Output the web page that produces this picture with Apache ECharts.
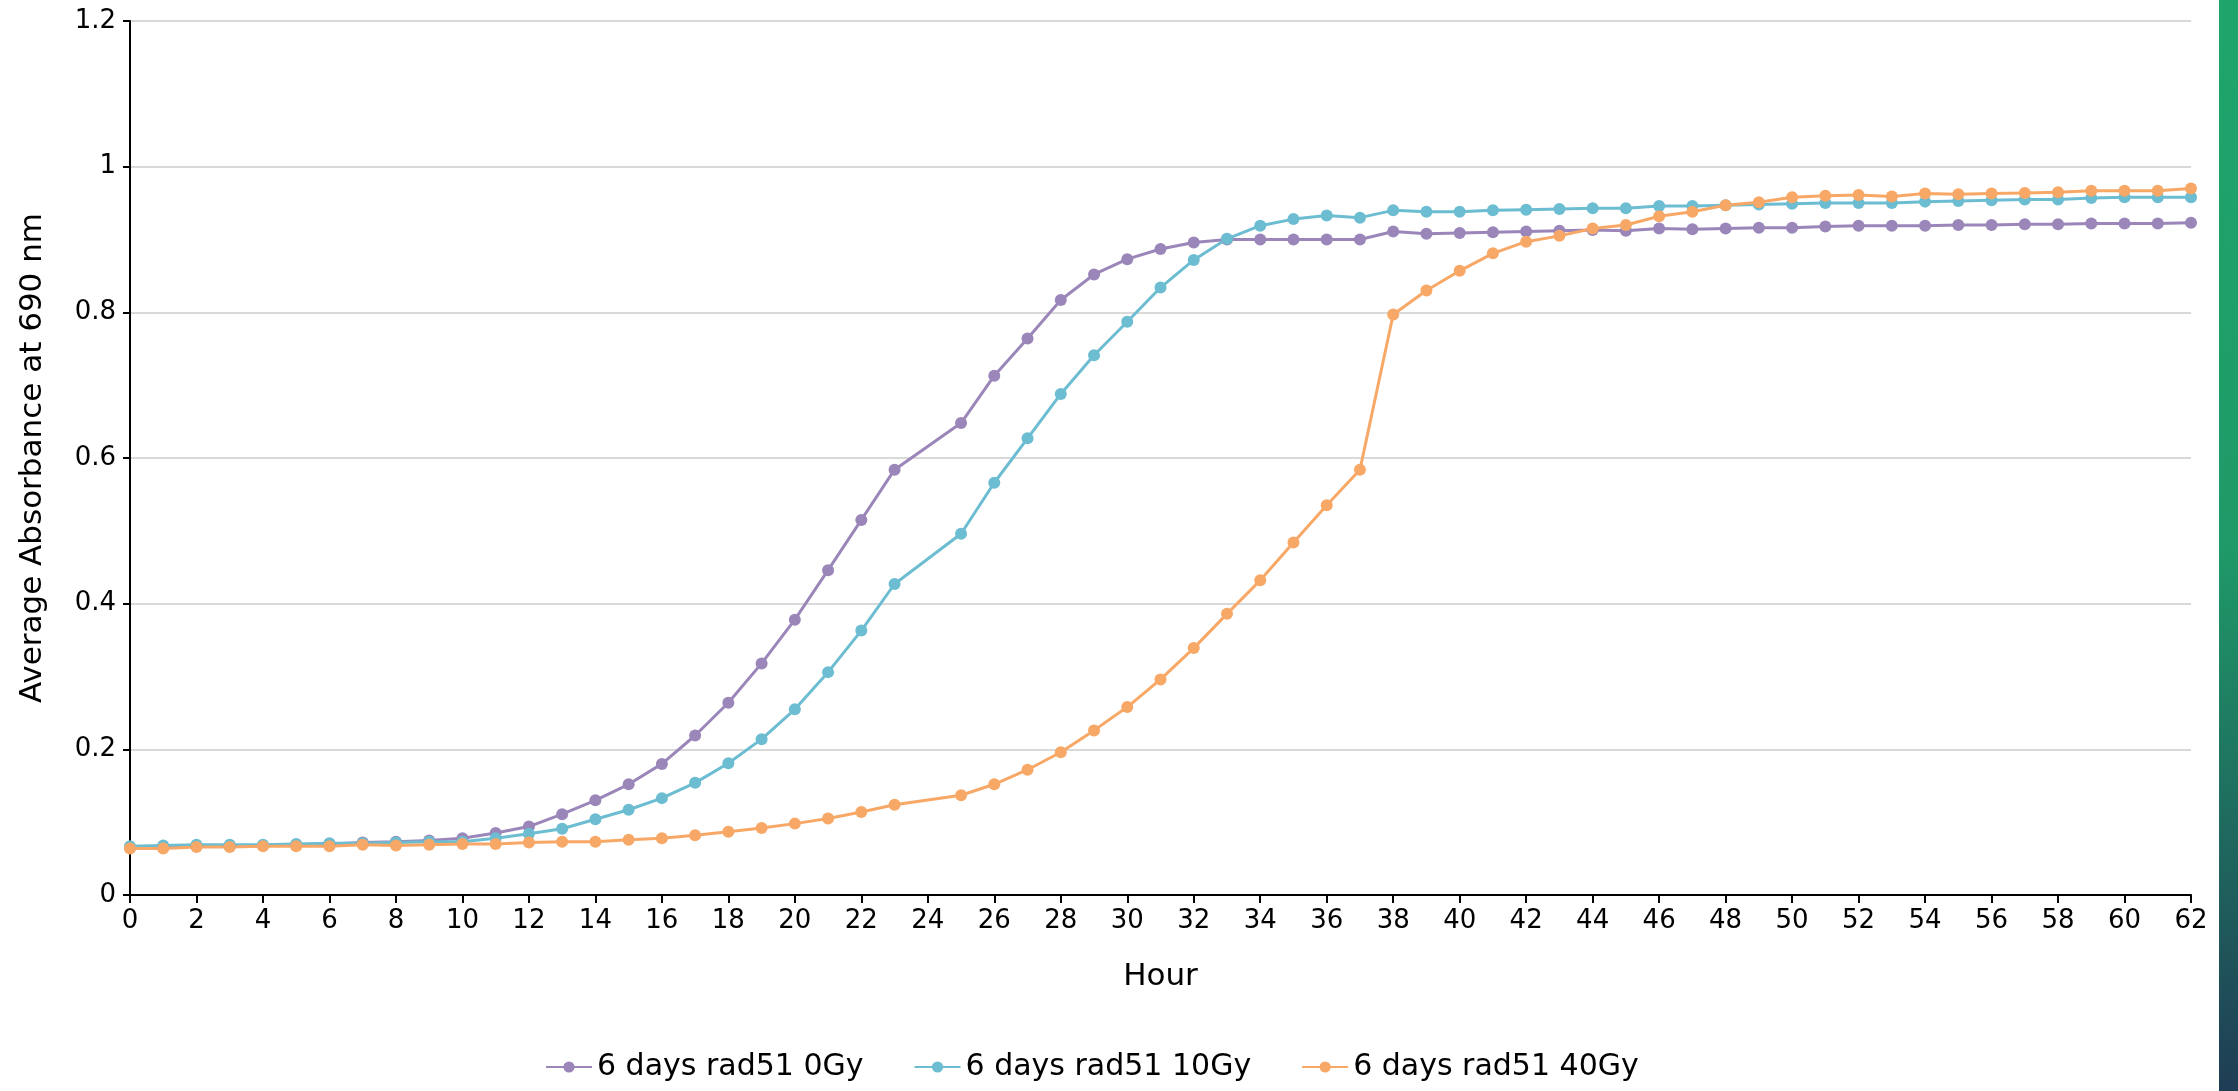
<!DOCTYPE html>
<html>
<head>
<meta charset="utf-8">
<script src="https://cdn.jsdelivr.net/npm/echarts@6/dist/echarts.min.js"></script>
<style>
html,body{margin:0;padding:0;background:#fff;}
#chart{width:2238px;height:1091px;}
</style>
</head>
<body>
<div id="chart"></div>
<script>
const hours = [0,1,2,3,4,5,6,7,8,9,10,11,12,13,14,15,16,17,18,19,20,21,22,23,25,26,27,28,29,30,31,32,33,34,35,36,37,38,39,40,41,42,43,44,45,46,47,48,49,50,51,52,53,54,55,56,57,58,59,60,61,62];
const seriesNames = ['6 days rad51 0Gy', '6 days rad51 10Gy', '6 days rad51 40Gy'];
const gy0 = [0.065,0.066,0.067,0.067,0.068,0.069,0.070,0.072,0.073,0.075,0.078,0.085,0.094,0.111,0.130,0.152,0.180,0.219,0.264,0.318,0.378,0.446,0.515,0.584,0.648,0.713,0.764,0.817,0.852,0.873,0.887,0.896,0.900,0.900,0.900,0.900,0.900,0.911,0.908,0.909,0.910,0.911,0.912,0.913,0.912,0.915,0.914,0.915,0.916,0.916,0.918,0.919,0.919,0.919,0.920,0.920,0.921,0.921,0.922,0.922,0.922,0.923];
const gy10 = [0.067,0.068,0.069,0.069,0.069,0.070,0.071,0.071,0.072,0.073,0.073,0.078,0.084,0.091,0.104,0.117,0.133,0.154,0.181,0.214,0.255,0.306,0.363,0.427,0.496,0.566,0.627,0.688,0.741,0.787,0.834,0.872,0.901,0.919,0.928,0.933,0.930,0.940,0.938,0.938,0.940,0.941,0.942,0.943,0.943,0.946,0.946,0.947,0.948,0.949,0.950,0.950,0.950,0.952,0.953,0.954,0.955,0.955,0.957,0.958,0.958,0.958];
const gy40 = [0.064,0.064,0.066,0.066,0.067,0.067,0.067,0.069,0.068,0.069,0.070,0.070,0.072,0.073,0.073,0.076,0.078,0.082,0.087,0.092,0.098,0.105,0.114,0.124,0.137,0.152,0.172,0.196,0.226,0.258,0.296,0.339,0.386,0.432,0.484,0.535,0.584,0.797,0.830,0.857,0.881,0.897,0.905,0.915,0.920,0.932,0.938,0.947,0.951,0.958,0.960,0.961,0.959,0.963,0.962,0.963,0.964,0.965,0.967,0.967,0.967,0.970];
const colors = ['#9b86b9', '#6cbdd1', '#f8a866'];

const FONT = 'DejaVu Sans';
const pair = arr => hours.map((h, i) => [h, arr[i]]);
const mk = (name, arr, color) => ({
  name: name,
  type: 'line',
  data: pair(arr),
  symbol: 'circle',
  symbolSize: 12,
  color: color,
  lineStyle: { width: 3, color: color },
  itemStyle: { color: color },
  animation: false
});

const chart = echarts.init(document.getElementById('chart'));
chart.setOption({
  backgroundColor: '#ffffff',
  animation: false,
  grid: { left: 130, right: 47, top: 21, bottom: 196, containLabel: false },
  xAxis: {
    type: 'value', min: 0, max: 62, interval: 2,
    name: 'Hour', nameLocation: 'middle', nameGap: 66,
    nameTextStyle: { fontFamily: FONT, fontSize: 31, color: '#000' },
    axisLine: { show: true, onZero: false, lineStyle: { color: '#000', width: 2 } },
    axisTick: { show: true, length: 8, lineStyle: { color: '#000', width: 2 } },
    axisLabel: { fontFamily: FONT, fontSize: 26, color: '#000', margin: 13 },
    splitLine: { show: false }
  },
  yAxis: {
    type: 'value', min: 0, max: 1.2, interval: 0.2,
    name: 'Average Absorbance at 690 nm', nameLocation: 'middle', nameGap: 82,
    nameTextStyle: { fontFamily: FONT, fontSize: 31, color: '#000' },
    axisLine: { show: true, lineStyle: { color: '#000', width: 2 } },
    axisTick: { show: true, length: 7, lineStyle: { color: '#000', width: 2 } },
    axisLabel: { fontFamily: FONT, fontSize: 26, color: '#000', margin: 14 },
    splitLine: { show: true, lineStyle: { color: '#d9d9d9', width: 2 } }
  },
  legend: {
    data: seriesNames,
    left: 540, bottom: 4,
    itemWidth: 46, itemHeight: 14, itemGap: 50,
    textStyle: { fontFamily: FONT, fontSize: 30, color: '#000' }
  },
  graphic: [{
    type: 'rect', right: 0, top: 0, z: -1,
    shape: { width: 19, height: 1091 },
    style: { fill: new echarts.graphic.LinearGradient(0, 0, 0, 1, [
      { offset: 0, color: '#1fa56c' }, { offset: 0.5, color: '#1f9a68' }, { offset: 1, color: '#1f3d55' }
    ]) }
  }],
  series: [
    mk(seriesNames[0], gy0, colors[0]),
    mk(seriesNames[1], gy10, colors[1]),
    mk(seriesNames[2], gy40, colors[2])
  ]
});
</script>
</body>
</html>
